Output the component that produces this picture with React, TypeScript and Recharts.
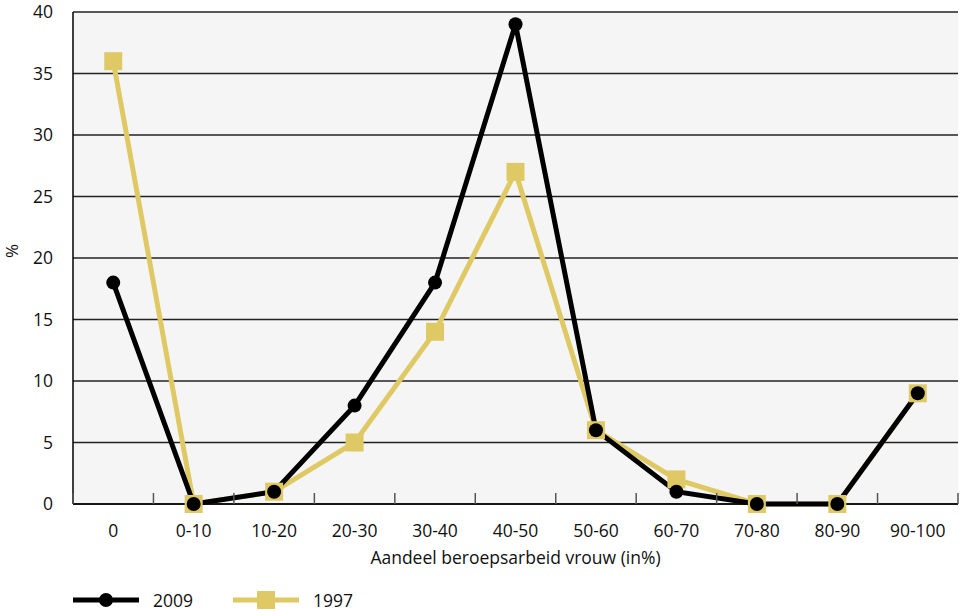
import { CartesianGrid, Line, LineChart, XAxis, YAxis, Label } from "recharts";

const categories = ["0", "0-10", "10-20", "20-30", "30-40", "40-50", "50-60", "60-70", "70-80", "80-90", "90-100"];
const values2009 = [18, 0, 1, 8, 18, 39, 6, 1, 0, 0, 9];
const values1997 = [36, 0, 1, 5, 14, 27, 6, 2, 0, 0, 9];
const yTicks = [0, 5, 10, 15, 20, 25, 30, 35, 40];

const data = categories.map((name, i) => ({ name, y2009: values2009[i], y1997: values1997[i] }));

const FONT = "'Open Sans', 'Noto Sans', sans-serif";
const BLACK = "#000000";
const YELLOW = "#dfc965";

const XTick = (props: any) => {
    const { x, y, payload, index, visibleTicksCount } = props;
    const off = payload.offset || 0;
    return (
        <g>
            <line x1={x - off} x2={x - off} y1={y} y2={y - 11} stroke="#555" strokeWidth={1.5} />
            {index === visibleTicksCount - 1 && (
                <line x1={x + off} x2={x + off} y1={y} y2={y - 11} stroke="#555" strokeWidth={1.5} />
            )}
            <text x={x} y={y + 33} textAnchor="middle" fontSize={17.5} fill="#111" fontFamily={FONT}>
                {payload.value}
            </text>
        </g>
    );
};

const Square = ({ cx, cy }: any) => <rect x={cx - 9} y={cy - 9} width={18} height={18} fill={YELLOW} />;
const Dot = ({ cx, cy }: any) => <circle cx={cx} cy={cy} r={7} fill={BLACK} />;

const App = () => {
    return (
        <div style={{ position: "absolute", left: 0, top: 0, width: 960, height: 611 }}>
            <LineChart width={960} height={611} data={data} margin={{ top: 12, right: 2, left: 0, bottom: 47 }}>
                <CartesianGrid vertical={false} stroke="#222" strokeWidth={1.5} fill="#f5f5f5" />
                <XAxis
                    dataKey="name"
                    scale="band"
                    height={60}
                    tickSize={0}
                    tickMargin={0}
                    tickLine={false}
                    axisLine={{ stroke: BLACK, strokeWidth: 1.5 }}
                    tick={<XTick />}
                    interval={0}
                >
                    <Label value="Aandeel beroepsarbeid vrouw (in%)" position="insideBottom" offset={0} fontSize={17.5} fill="#111" fontFamily={FONT} />
                </XAxis>
                <YAxis
                    width={73}
                    domain={[0, 40]}
                    ticks={yTicks}
                    tickLine={false}
                    axisLine={{ stroke: BLACK, strokeWidth: 1.5 }}
                    tick={{ fontSize: 17.5, fill: "#111", fontFamily: FONT }}
                    tickMargin={14}
                    interval={0}
                >
                    <Label value="%" angle={-90} position="insideLeft" offset={12} fontSize={17} fill="#111" fontFamily={FONT} />
                </YAxis>
                <Line
                    dataKey="y1997"
                    name="1997"
                    stroke={YELLOW}
                    strokeWidth={5}
                    dot={<Square />}
                    activeDot={false}
                    isAnimationActive={false}
                />
                <Line
                    dataKey="y2009"
                    name="2009"
                    stroke={BLACK}
                    strokeWidth={5}
                    dot={<Dot />}
                    activeDot={false}
                    isAnimationActive={false}
                />
            </LineChart>
            <div style={{ position: "absolute", left: 73, top: 588, display: "flex", alignItems: "center", fontFamily: FONT, fontSize: 17.5, color: "#111" }}>
                <svg width={66} height={20}>
                    <line x1={0} x2={66} y1={10} y2={10} stroke={BLACK} strokeWidth={5} />
                    <circle cx={33} cy={10} r={7} fill={BLACK} />
                </svg>
                <span style={{ marginLeft: 14, width: 80 }}>2009</span>
                <svg width={66} height={20}>
                    <line x1={0} x2={66} y1={10} y2={10} stroke={YELLOW} strokeWidth={5} />
                    <rect x={24} y={1} width={18} height={18} fill={YELLOW} />
                </svg>
                <span style={{ marginLeft: 14 }}>1997</span>
            </div>
        </div>
    );
};

export default App;
